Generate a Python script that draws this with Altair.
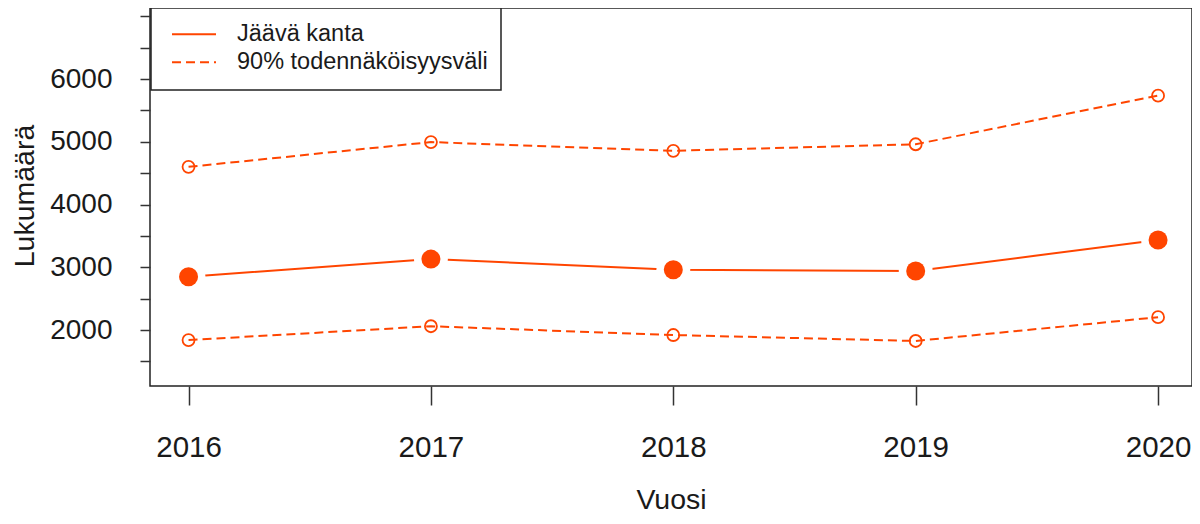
import altair as alt
import pandas as pd

# ---- data ----
years = [2016, 2017, 2018, 2019, 2020]
estimate = [2850, 3130, 2960, 2940, 3435]
upper = [4600, 4995, 4855, 4960, 5735]
lower = [1840, 2060, 1920, 1825, 2205]

legend_labels = ["Jäävä kanta", "90% todennäköisyysväli"]
x_title = "Vuosi"
y_title = "Lukumäärä"
y_tick_values = [1500, 2000, 2500, 3000, 3500, 4000, 4500, 5000, 5500, 6000, 6500, 7000]

COLOR = "#FF4500"
FONT = "Liberation Sans"
INK = "#1a1a1a"

df = pd.DataFrame({"Vuosi": years, "est": estimate, "upper": upper, "lower": lower})
bounds = df.melt(id_vars="Vuosi", value_vars=["upper", "lower"],
                 var_name="bound", value_name="value")

x_scale = alt.Scale(domain=[2015.841, 2020.140], nice=False, zero=False)
y_scale = alt.Scale(domain=[1107.6, 7131.5], nice=False, zero=False)

x_axis = alt.Axis(
    values=years, format="d", title=x_title, tickSize=19, labelPadding=51,
    labelBaseline="alphabetic", labelFont=FONT, labelFontSize=29.5,
    labelFlush=False, labelOverlap=False, titleFont=FONT, titleFontSize=28.5,
    titleFontWeight="normal", titleBaseline="alphabetic", titleY=122,
    grid=False, domain=False,
)
y_axis = alt.Axis(
    values=y_tick_values,
    labelExpr="datum.value % 1000 == 0 && datum.value <= 6000 ? format(datum.value, 'd') : ''",
    title=y_title, tickSize=10, labelPadding=28, labelFont=FONT, labelFontSize=28,
    titleFont=FONT, titleFontSize=28.5, titleFontWeight="normal",
    titleBaseline="alphabetic", titleAlign="center", titleX=-117, titleY=187.5,
    grid=False, domain=False, labelOverlap=False,
)


def X():
    return alt.X("Vuosi:Q", scale=x_scale, axis=x_axis)


def Y(field):
    return alt.Y(f"{field}:Q", scale=y_scale, axis=y_axis)


main_line = alt.Chart(df).mark_line(color=COLOR, strokeWidth=2).encode(x=X(), y=Y("est"))
halo = alt.Chart(df).mark_point(filled=True, color="white", size=1150, opacity=1,
                                shape="circle").encode(x=X(), y=Y("est"))
main_pts = alt.Chart(df).mark_point(filled=True, color=COLOR, size=361, opacity=1,
                                    shape="circle").encode(x=X(), y=Y("est"))

bound_lines = alt.Chart(bounds).mark_line(color=COLOR, strokeWidth=2,
                                          strokeDash=[9, 5]).encode(
    x=X(), y=Y("value"), detail="bound:N")
bound_pts = alt.Chart(bounds).mark_point(filled=False, color=COLOR, size=144,
                                         strokeWidth=1.8, opacity=1,
                                         shape="circle").encode(x=X(), y=Y("value"))

# ---- manual legend (R-style box) ----
one = pd.DataFrame({"label": [legend_labels[0]]})
two = pd.DataFrame({"label": [legend_labels[1]]})
leg_box = alt.Chart(one).mark_rect(fill="white", stroke="#222", strokeWidth=1.5).encode(
    x=alt.value(1), x2=alt.value(351), y=alt.value(0), y2=alt.value(82))
leg_solid = alt.Chart(one).mark_rule(color=COLOR, strokeWidth=2).encode(
    x=alt.value(22), x2=alt.value(66), y=alt.value(26.3))
leg_dash = alt.Chart(two).mark_rule(color=COLOR, strokeWidth=2, strokeDash=[9, 5]).encode(
    x=alt.value(22), x2=alt.value(66), y=alt.value(54.3))
leg_t1 = alt.Chart(one).mark_text(align="left", baseline="middle", font=FONT,
                                  fontSize=23.5, color=INK).encode(
    x=alt.value(87), y=alt.value(26.3), text="label:N")
leg_t2 = alt.Chart(two).mark_text(align="left", baseline="middle", font=FONT,
                                  fontSize=23.5, color=INK).encode(
    x=alt.value(87), y=alt.value(54.3), text="label:N")

chart = alt.layer(
    bound_lines, bound_pts, main_line, halo, main_pts,
    leg_box, leg_solid, leg_dash, leg_t1, leg_t2,
).properties(
    width=1042, height=378,
    autosize=alt.AutoSizeParams(type="none"),
    padding={"left": 142, "top": 0, "right": 0, "bottom": 130},
).configure_view(
    stroke="#222", strokeWidth=1.5
).configure_axis(
    tickColor="#333", tickWidth=1.5, labelColor=INK, titleColor=INK
)

chart.save("out.html", embed_options={"renderer": "svg", "actions": False})
